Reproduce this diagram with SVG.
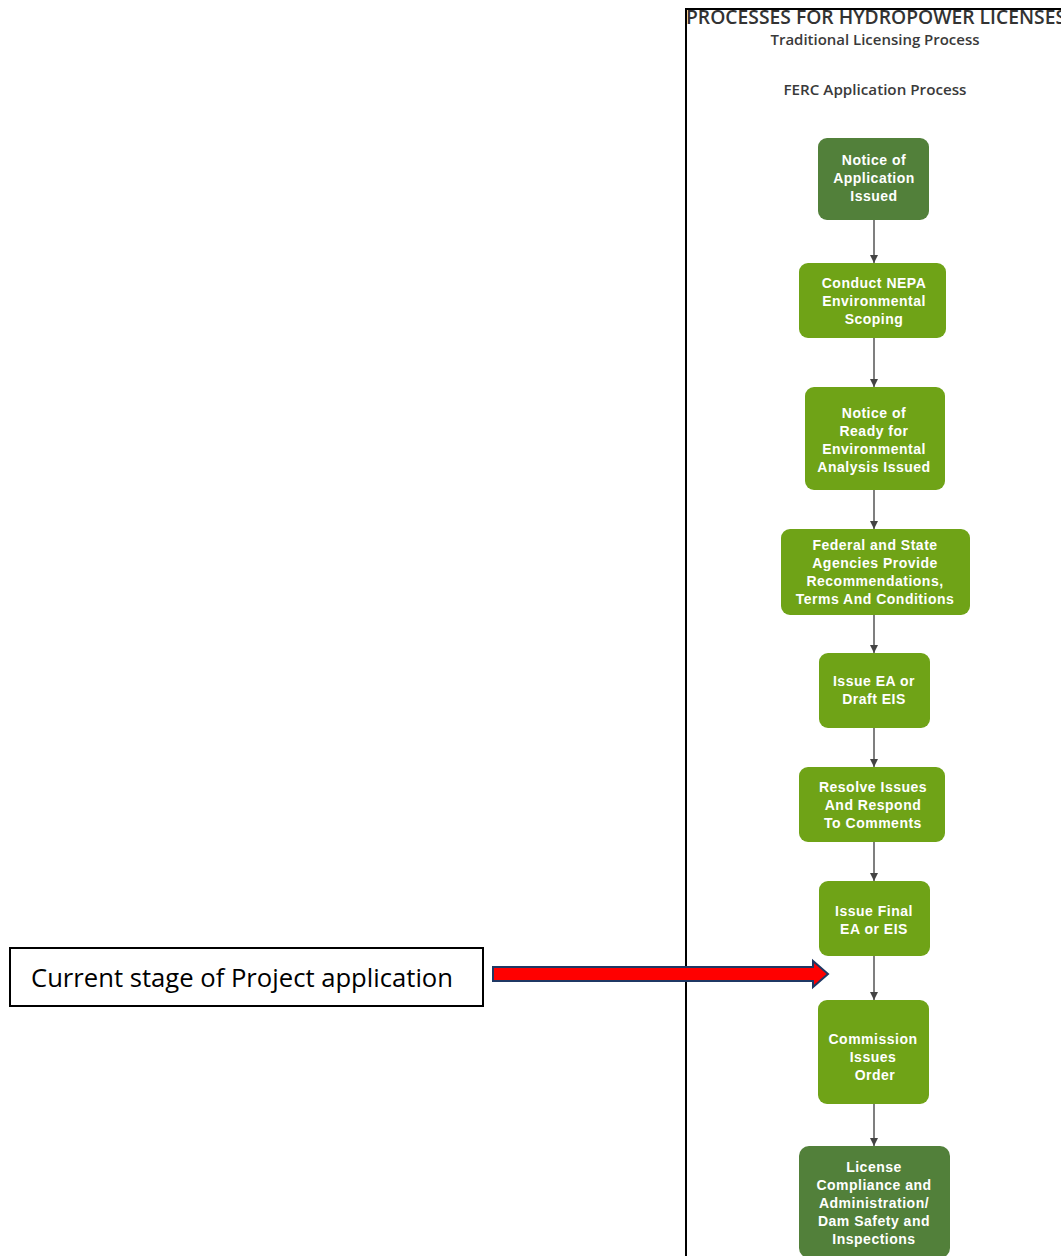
<svg xmlns="http://www.w3.org/2000/svg" width="1061" height="1256" viewBox="0 0 1061 1256">
<style>
.dk{fill:#52803a;}
.lt{fill:#6fa317;}
.nt{font-family:"Liberation Sans",Arial,sans-serif;font-weight:bold;font-size:14px;fill:#fff;text-anchor:middle;letter-spacing:0.5px;}
.conn{stroke:#555;stroke-width:1.5;fill:none;}
.hd{font-family:"Open Sans","Liberation Sans",sans-serif;fill:#3a3a3a;text-anchor:middle;font-weight:600;}
</style>
<defs>
<marker id="ah" viewBox="0 0 10 10" refX="10" refY="5" markerWidth="8" markerHeight="11" markerUnits="userSpaceOnUse" orient="auto">
<path d="M0,0 L10,5 L0,10 Z" fill="#444"/>
</marker>
</defs>
<rect width="1061" height="1256" fill="#fff"/>
<path d="M686,1256 V9 H1061" stroke="#000" stroke-width="2" fill="none"/>
<text x="686" y="24" font-family="Open Sans,Liberation Sans,sans-serif" font-size="19" font-weight="600" fill="#333" textLength="380" lengthAdjust="spacingAndGlyphs">PROCESSES FOR HYDROPOWER LICENSES</text>
<text class="hd" x="875" y="45" font-size="15" textLength="209" lengthAdjust="spacingAndGlyphs">Traditional Licensing Process</text>
<text class="hd" x="875" y="95" font-size="15" textLength="183" lengthAdjust="spacingAndGlyphs">FERC Application Process</text>

<g id="connectors">
<line class="conn" x1="874" y1="220" x2="874" y2="263" marker-end="url(#ah)"/>
<line class="conn" x1="874" y1="338" x2="874" y2="387" marker-end="url(#ah)"/>
<line class="conn" x1="874" y1="490" x2="874" y2="529" marker-end="url(#ah)"/>
<line class="conn" x1="874" y1="615" x2="874" y2="653" marker-end="url(#ah)"/>
<line class="conn" x1="874" y1="728" x2="874" y2="767" marker-end="url(#ah)"/>
<line class="conn" x1="874" y1="842" x2="874" y2="881" marker-end="url(#ah)"/>
<line class="conn" x1="874" y1="956" x2="874" y2="1000" marker-end="url(#ah)"/>
<line class="conn" x1="874" y1="1104" x2="874" y2="1146" marker-end="url(#ah)"/>
</g>

<g id="n1"><rect class="dk" x="818" y="138" width="111" height="82" rx="9"/>
<text class="nt" x="874" y="165">Notice of</text><text class="nt" x="874" y="183">Application</text><text class="nt" x="874" y="201">Issued</text></g>
<g id="n2"><rect class="lt" x="799" y="263" width="147" height="75" rx="9"/>
<text class="nt" x="874" y="288">Conduct NEPA</text><text class="nt" x="874" y="306">Environmental</text><text class="nt" x="874" y="324">Scoping</text></g>
<g id="n3"><rect class="lt" x="805" y="387" width="140" height="103" rx="9"/>
<text class="nt" x="874" y="418">Notice of</text><text class="nt" x="874" y="436">Ready for</text><text class="nt" x="874" y="454">Environmental</text><text class="nt" x="874" y="472">Analysis Issued</text></g>
<g id="n4"><rect class="lt" x="781" y="529" width="189" height="86" rx="9"/>
<text class="nt" x="875" y="550">Federal and State</text><text class="nt" x="875" y="568">Agencies Provide</text><text class="nt" x="875" y="586">Recommendations,</text><text class="nt" x="875" y="604">Terms And Conditions</text></g>
<g id="n5"><rect class="lt" x="819" y="653" width="111" height="75" rx="9"/>
<text class="nt" x="874" y="686">Issue EA or</text><text class="nt" x="874" y="704">Draft EIS</text></g>
<g id="n6"><rect class="lt" x="799" y="767" width="146" height="75" rx="9"/>
<text class="nt" x="873" y="792">Resolve Issues</text><text class="nt" x="873" y="810">And Respond</text><text class="nt" x="873" y="828">To Comments</text></g>
<g id="n7"><rect class="lt" x="819" y="881" width="111" height="75" rx="9"/>
<text class="nt" x="874" y="916">Issue Final</text><text class="nt" x="874" y="934">EA or EIS</text></g>
<g id="n8"><rect class="lt" x="818" y="1000" width="111" height="104" rx="9"/>
<text class="nt" x="873" y="1044">Commission</text><text class="nt" x="873" y="1062">Issues</text><text class="nt" x="875" y="1080">Order</text></g>
<g id="n9"><rect class="dk" x="799" y="1146" width="151" height="112" rx="10"/>
<text class="nt" x="874" y="1172">License</text><text class="nt" x="874" y="1190">Compliance and</text><text class="nt" x="874" y="1208">Administration/</text><text class="nt" x="874" y="1226">Dam Safety and</text><text class="nt" x="874" y="1244">Inspections</text></g>

<g id="label">
<rect x="10" y="948" width="473" height="58" fill="#fff" stroke="#000" stroke-width="2"/>
<text x="31" y="987" font-family="Open Sans,Liberation Sans,sans-serif" font-size="25" fill="#000" textLength="422" lengthAdjust="spacingAndGlyphs">Current stage of Project application</text>
</g>
<g id="red-arrow">
<path d="M493,967 H813 V961 L828,974 L813,987 V981 H493 Z" fill="#ff0000" stroke="#1f3864" stroke-width="2" stroke-linejoin="miter"/>
</g>
</svg>
